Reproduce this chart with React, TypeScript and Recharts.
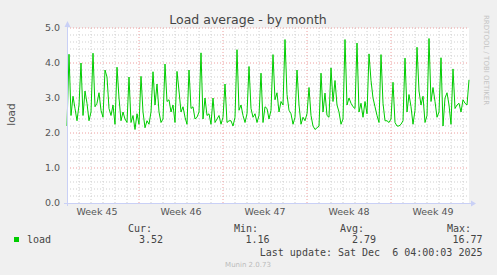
import { LineChart, Line, XAxis, YAxis, CartesianGrid, ReferenceLine } from "recharts"

// 2-hour-ish samples of the load average (one per 2px)
const LOAD = [
  2.2, 4.25, 2.5, 3.05, 2.7, 2.35, 2.8, 4.0, 2.5, 3.2,
  2.85, 2.35, 2.6, 4.28, 2.75, 2.85, 3.15, 2.65, 2.45, 3.8,
  3.6, 2.7, 2.5, 2.8, 2.25, 3.88, 3.0, 2.35, 2.6, 2.4,
  2.3, 3.6, 2.3, 2.5, 2.1, 2.55, 2.25, 3.62, 2.6, 2.15,
  2.35, 2.25, 2.6, 3.75, 2.8, 3.4, 2.6, 2.3, 2.4, 3.97,
  2.9, 2.95, 2.6, 2.8, 2.3, 3.76, 3.2, 2.6, 2.75, 2.45,
  2.25, 3.8, 2.7, 2.75, 2.4, 2.45, 2.6, 4.29, 2.4, 3.0,
  2.5, 2.55, 2.25, 3.0, 2.3, 2.4, 2.5, 2.25, 2.45, 3.4,
  2.3, 2.35, 2.35, 2.2, 2.45, 4.38, 2.65, 2.8, 2.5, 2.3,
  2.55, 3.9, 2.7, 2.45, 2.55, 2.3, 2.5, 3.71, 2.3, 2.75,
  2.7, 2.4, 2.65, 4.24, 2.95, 3.15, 2.6, 2.9, 2.8, 4.67,
  3.1, 2.65, 2.55, 2.25, 2.45, 3.8, 2.8, 2.25, 2.45, 2.35,
  2.55, 3.3, 2.5, 2.2, 2.1, 2.15, 2.2, 3.71, 2.6, 3.14,
  2.5, 2.45, 3.86, 2.9, 3.5, 2.8, 2.6, 2.25, 2.4, 4.67,
  2.8, 3.0, 2.85, 2.75, 2.7, 4.57, 2.6, 2.85, 2.45, 2.9,
  2.55, 4.26, 3.5, 3.0, 2.75, 2.5, 2.3, 4.24, 2.85, 2.35,
  2.35, 2.3, 2.4, 3.45, 2.3, 2.2, 2.2, 2.25, 2.35, 4.14,
  2.6, 3.1, 2.75, 2.25, 2.65, 4.45, 3.2, 2.8, 3.05, 2.3,
  2.5, 4.7, 2.9, 3.3, 2.9, 2.45, 2.6, 4.15, 2.2, 3.0,
  3.15, 2.8, 2.25, 3.83, 2.7, 2.8, 2.85, 2.6, 2.95, 2.85,
  2.8, 3.52,
]

const WEEK_LABELS = ["Week 45", "Week 46", "Week 47", "Week 48", "Week 49"]
const WEEK_TICKS = [15, 57, 99, 141, 183] // mid-week sample index
const WEEK_STARTS = [36, 78, 120, 162]
const Y_TICKS = [0, 1, 2, 3, 4, 5]

const CUR = "3.52"
const MIN = "1.16"
const AVG = "2.79"
const MAX = "16.77"
const LAST_UPDATE = "Last update: Sat Dec \u00a06 04:00:03 2025"

const data = LOAD.map((v, i) => ({ i, load: v }))

const last = LOAD.length - 1
const dayLines: number[] = []
for (let d = 6; d < last; d += 6) if (!WEEK_STARTS.includes(d)) dayLines.push(d)
const minorY: number[] = []
for (let k = 1; k < 25; k++) if (k % 5 !== 0) minorY.push(k / 5)

const AXIS = "#c9d0f6"
const MINOR = "#cfcfcf"
const MAJOR = "#eea0a0"
const MONO = "'DejaVu Sans Mono', monospace"

export default function App() {
  return (
    <div style={{ position: "absolute", left: 0, top: 0, width: 497, height: 275, background: "#f0f0f0", fontFamily: "'DejaVu Sans', sans-serif" }}>
      <LineChart width={497} height={275} data={data} margin={{ top: 28, right: 28, bottom: 52, left: 37 }}>
        <CartesianGrid horizontal={false} vertical={false} fill="#ffffff" />
        {minorY.map(v => (
          <ReferenceLine key={"hy" + v} y={v} stroke={MINOR} strokeDasharray="1 2" />
        ))}
        {dayLines.map(d => (
          <ReferenceLine key={"vx" + d} x={d} stroke={MINOR} strokeDasharray="1 2" />
        ))}
        {[1, 2, 3, 4, 5].map(v => (
          <ReferenceLine key={"my" + v} y={v} stroke={MAJOR} strokeDasharray="1 2" />
        ))}
        {WEEK_STARTS.map(d => (
          <ReferenceLine key={"mx" + d} x={d} stroke={MAJOR} strokeDasharray="1 2" />
        ))}
        <XAxis
          dataKey="i" type="number" domain={[0, last]} ticks={WEEK_TICKS} interval={0}
          tickFormatter={(v: number) => WEEK_LABELS[WEEK_TICKS.indexOf(v)]}
          axisLine={false} tickLine={false} tickSize={3} tickMargin={2} height={20}
          tick={{ fill: "#555", fontSize: 9.5 }}
        />
        <YAxis
          domain={[0, 5]} ticks={Y_TICKS} interval={0} width={30}
          tickFormatter={(v: number) => v.toFixed(1)}
          axisLine={false} tickLine={false} tickSize={2} tickMargin={5}
          tick={{ fill: "#555", fontSize: 9.5 }}
        />
        <Line type="linear" dataKey="load" stroke="#00cc00" strokeWidth={1} dot={false} isAnimationActive={false} />
      </LineChart>

      <svg width={497} height={275} style={{ position: "absolute", left: 0, top: 0, pointerEvents: "none" }}>
        <line x1={67.5} y1={206} x2={67.5} y2={25} stroke={AXIS} />
        <polygon points="64.5,27 70.5,27 67.5,21" fill={AXIS} />
        <line x1={64} y1={203.5} x2={472} y2={203.5} stroke={AXIS} />
        <polygon points="471,200.5 471,206.5 476,203.5" fill={AXIS} />

        <text x={248} y={23.5} textAnchor="middle" fontSize={12.5} fill="#444">Load average - by month</text>
        <text x={14.5} y={114.5} textAnchor="middle" fontSize={10.5} fill="#555" transform="rotate(-90 14.5 114.5)">load</text>
        <text x={484} y={15} fontSize={7} fill="#c4c4c4" transform="rotate(90 484 15)">RRDTOOL / TOBI OETIKER</text>

        <g fontFamily={MONO} fontSize={10} fill="#444">
          <text x={128} y={231.5}>Cur:</text>
          <text x={234} y={231.5}>Min:</text>
          <text x={340} y={231.5}>Avg:</text>
          <text x={447} y={231.5}>Max:</text>
          <rect x={14} y={237} width={5} height={5} fill="#00cc00" />
          <text x={27} y={243}>load</text>
          <text x={163} y={243} textAnchor="end">{CUR}</text>
          <text x={269.5} y={243} textAnchor="end">{MIN}</text>
          <text x={376} y={243} textAnchor="end">{AVG}</text>
          <text x={482.5} y={243} textAnchor="end">{MAX}</text>
          <text x={482.5} y={255.5} textAnchor="end">{LAST_UPDATE}</text>
        </g>
        <text x={248} y={267} textAnchor="middle" fontSize={7} fill="#bbb">Munin 2.0.73</text>
      </svg>
    </div>
  )
}
